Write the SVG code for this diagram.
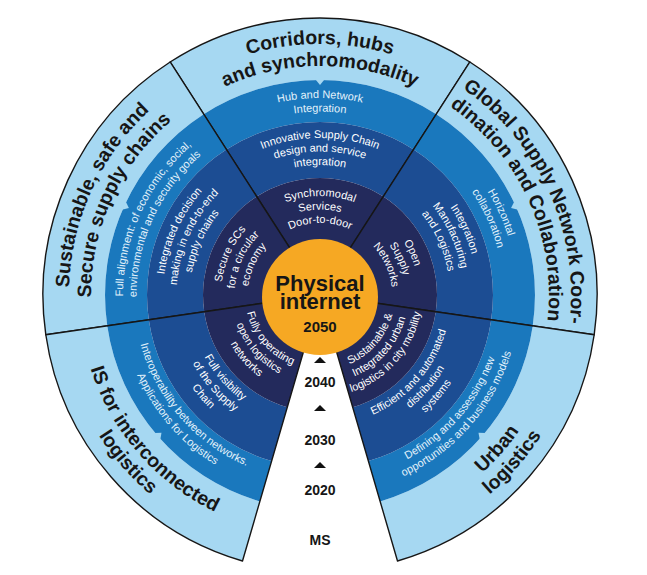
<svg xmlns="http://www.w3.org/2000/svg" width="647" height="575" viewBox="0 0 647 575">
<style>
.l1{fill:#a6d8f2}
.l2{fill:#1a78bd}
.l3{fill:#1c4d93}
.l4{fill:#232a5c}
.edge{fill:none;stroke:#161616;stroke-width:1.4;stroke-linejoin:round}
.t{font-family:"Liberation Sans",Arial,sans-serif;font-weight:bold;font-size:19.5px;fill:#161616;text-anchor:middle}
.w{font-family:"Liberation Sans",Arial,sans-serif;font-size:11px;fill:#ffffff;text-anchor:middle}
.wl{font-family:"Liberation Sans",Arial,sans-serif;font-size:11px;fill:#e3f2fb;text-anchor:middle}
.c{font-family:"Liberation Sans",Arial,sans-serif;font-weight:bold;fill:#161616;text-anchor:middle}
.tri{fill:#111111}
</style>
<defs>
<g id="sec">
<path class="l1" d="M-149.9,-233 A277,277 0 0 1 149.9,-233 L116.3,-180.8 A215,215 0 0 0 -116.3,-180.8 Z"/>
<path class="l2" d="M-116.3,-180.8 A215,215 0 0 1 116.3,-180.8 L93.6,-145.5 A173,173 0 0 0 -93.6,-145.5 Z"/>
<path class="l3" d="M-93.6,-145.5 A173,173 0 0 1 93.6,-145.5 L63.3,-98.4 A117,117 0 0 0 -63.3,-98.4 Z"/>
<path class="l4" d="M-63.3,-98.4 A117,117 0 0 1 63.3,-98.4 L0,0 Z"/>
<polygon class="l1" points="-4.5,-215.6 4.5,-215.6 0,-210"/>
<path class="edge" d="M0,0 L-149.9,-233 A277,277 0 0 1 149.9,-233 Z"/>
</g>
<path id="t251" d="M-217.4,-125.5 A251,251 0 0 1 217.4,-125.5"/>
<path id="t229" d="M-198.3,-114.5 A229,229 0 0 1 198.3,-114.5"/>
<path id="t197" d="M-170.6,-98.5 A197,197 0 0 1 170.6,-98.5"/>
<path id="t183" d="M-158.9,-91.75 A183.5,183.5 0 0 1 158.9,-91.75"/>
<path id="t157" d="M-136,-78.5 A157,157 0 0 1 136,-78.5"/>
<path id="t143" d="M-124.3,-71.75 A143.5,143.5 0 0 1 124.3,-71.75"/>
<path id="t130" d="M-112.6,-65 A130,130 0 0 1 112.6,-65"/>
<path id="t99" d="M-85.7,-49.5 A99,99 0 0 1 85.7,-49.5"/>
<path id="t85" d="M-74,-42.75 A85.5,85.5 0 0 1 74,-42.75"/>
<path id="t72" d="M-62.4,-36 A72,72 0 0 1 62.4,-36"/>
<path id="b75" d="M-65,37.5 A75,75 0 0 0 65,37.5"/>
<path id="b88" d="M-76.6,44.25 A88.5,88.5 0 0 0 76.6,44.25"/>
<path id="b102" d="M-88.3,51 A102,102 0 0 0 88.3,51"/>
<path id="b131" d="M-113.4,65.5 A131,131 0 0 0 113.4,65.5"/>
<path id="b144" d="M-125.1,72.25 A144.5,144.5 0 0 0 125.1,72.25"/>
<path id="b158" d="M-136.8,79 A158,158 0 0 0 136.8,79"/>
<path id="b186" d="M-161.1,93 A186,186 0 0 0 161.1,93"/>
<path id="b199" d="M-172.8,99.75 A199.5,199.5 0 0 0 172.8,99.75"/>
<path id="b241" d="M-208.7,120.5 A241,241 0 0 0 208.7,120.5"/>
<path id="b262" d="M-226.9,131 A262,262 0 0 0 226.9,131"/>
</defs>
<rect width="647" height="575" fill="#ffffff"/>
<g transform="translate(320,295)">
<g id="sector-corridors">
<use href="#sec"/>
<text class="t"><textPath href="#t251" startOffset="50%">Corridors, hubs</textPath></text>
<text class="t"><textPath href="#t229" startOffset="50%">and synchromodality</textPath></text>
<text class="wl"><textPath href="#t197" startOffset="50%">Hub and Network</textPath></text>
<text class="wl"><textPath href="#t183" startOffset="50%">Integration</textPath></text>
<text class="w"><textPath href="#t157" startOffset="50%">Innovative Supply Chain</textPath></text>
<text class="w"><textPath href="#t143" startOffset="50%">design and service</textPath></text>
<text class="w"><textPath href="#t130" startOffset="50%">integration</textPath></text>
<text class="w"><textPath href="#t99" startOffset="50%">Synchromodal</textPath></text>
<text class="w"><textPath href="#t85" startOffset="50%">Services</textPath></text>
<text class="w"><textPath href="#t72" startOffset="50%">Door-to-door</textPath></text>
</g>
<g id="sector-global" transform="rotate(65.5)">
<use href="#sec"/>
<text class="t"><textPath href="#t251" startOffset="50%">Global Supply Network Coor-</textPath></text>
<text class="t"><textPath href="#t229" startOffset="50%">dination and Collaboration</textPath></text>
<text class="wl"><textPath href="#t197" startOffset="50%">Horizontal</textPath></text>
<text class="wl"><textPath href="#t183" startOffset="50%">collaboration</textPath></text>
<text class="w"><textPath href="#t157" startOffset="50%">Integration</textPath></text>
<text class="w"><textPath href="#t143" startOffset="50%">Manufacturing</textPath></text>
<text class="w"><textPath href="#t130" startOffset="50%">and Logistics</textPath></text>
<text class="w"><textPath href="#t99" startOffset="50%">Open</textPath></text>
<text class="w"><textPath href="#t85" startOffset="50%">Supply</textPath></text>
<text class="w"><textPath href="#t72" startOffset="50%">Networks</textPath></text>
</g>
<g id="sector-sustainable" transform="rotate(-65.5)">
<use href="#sec"/>
<text class="t"><textPath href="#t251" startOffset="50%">Sustainable, safe and</textPath></text>
<text class="t"><textPath href="#t229" startOffset="50%">Secure supply chains</textPath></text>
<text class="wl"><textPath href="#t197" startOffset="50%">Full alignment: of economic, social,</textPath></text>
<text class="wl"><textPath href="#t183" startOffset="50%">environmental and security goals</textPath></text>
<text class="w"><textPath href="#t157" startOffset="50%">Integrated decision</textPath></text>
<text class="w"><textPath href="#t143" startOffset="50%">making in end-to-end</textPath></text>
<text class="w"><textPath href="#t130" startOffset="50%">supply chains</textPath></text>
<text class="w"><textPath href="#t99" startOffset="50%">Secure SCs</textPath></text>
<text class="w"><textPath href="#t85" startOffset="50%">for a circular</textPath></text>
<text class="w"><textPath href="#t72" startOffset="50%">economy</textPath></text>
</g>
<g id="sector-is">
<use href="#sec" transform="rotate(-131)"/>
<g transform="rotate(49)">
<text class="t"><textPath href="#b241" startOffset="50%">IS for interconnected</textPath></text>
<text class="t"><textPath href="#b262" startOffset="50%">logistics</textPath></text>
<text class="wl"><textPath href="#b186" startOffset="50%">Interoperability between networks.</textPath></text>
<text class="wl"><textPath href="#b199" startOffset="50%">Applications for Logistics</textPath></text>
<text class="w"><textPath href="#b131" startOffset="50%">Full visibility</textPath></text>
<text class="w"><textPath href="#b144" startOffset="50%">of the Supply</textPath></text>
<text class="w"><textPath href="#b158" startOffset="50%">Chain</textPath></text>
<text class="w"><textPath href="#b75" startOffset="50%">Fully operating</textPath></text>
<text class="w"><textPath href="#b88" startOffset="50%">open logistics</textPath></text>
<text class="w"><textPath href="#b102" startOffset="50%">networks</textPath></text>
</g>
</g>
<g id="sector-urban">
<use href="#sec" transform="rotate(131)"/>
<g transform="rotate(-49)">
<text class="t"><textPath href="#b241" startOffset="50%">Urban</textPath></text>
<text class="t"><textPath href="#b262" startOffset="50%">logistics</textPath></text>
<text class="wl"><textPath href="#b186" startOffset="50%">Defining and assessing new</textPath></text>
<text class="wl"><textPath href="#b199" startOffset="50%">opportunities and business models</textPath></text>
<text class="w"><textPath href="#b131" startOffset="50%">Efficient and automated</textPath></text>
<text class="w"><textPath href="#b144" startOffset="50%">distribution</textPath></text>
<text class="w"><textPath href="#b158" startOffset="50%">systems</textPath></text>
<text class="w"><textPath href="#b75" startOffset="50%">Sustainable &amp;</textPath></text>
<text class="w"><textPath href="#b88" startOffset="50%">Integrated urban</textPath></text>
<text class="w"><textPath href="#b102" startOffset="50%">logistics in city mobility</textPath></text>
</g>
</g>
<g id="core">
<circle cx="0" cy="2" r="58" fill="#f6a823"/>
</g>
</g>
<g id="core-label">
<text class="c" x="320" y="291" font-size="22">Physical</text>
<text class="c" x="320" y="309" font-size="22">internet</text>
<text class="c" x="320" y="332" font-size="15">2050</text>
</g>
<g id="timeline">
<polygon class="tri" points="314,363 326,363 320,357"/>
<polygon class="tri" points="314,411 326,411 320,405"/>
<polygon class="tri" points="314,468 326,468 320,462"/>
<text class="c" x="320" y="387" font-size="14">2040</text>
<text class="c" x="320" y="445" font-size="14">2030</text>
<text class="c" x="320" y="495" font-size="14">2020</text>
<text class="c" x="320" y="545" font-size="14">MS</text>
</g>
</svg>
